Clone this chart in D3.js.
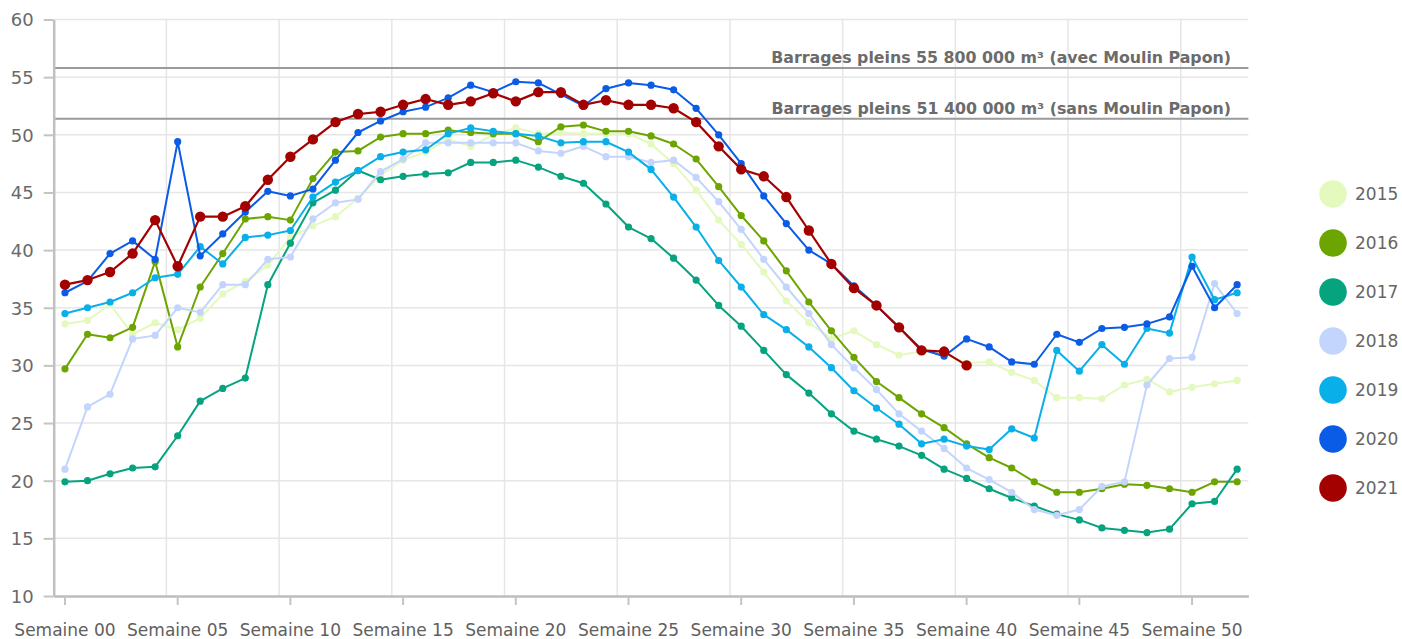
<!DOCTYPE html>
<html>
<head>
<meta charset="utf-8">
<script src="https://cdn.jsdelivr.net/npm/d3@7"></script>
<style>
  html, body { margin: 0; padding: 0; background: #ffffff; }
  svg { display: block; }
</style>
</head>
<body>
<svg id="chart" width="1402" height="639"></svg>
<script>
// ---------- DATA ----------
const weeks = d3.range(0, 53);
const weekTicks = [0, 5, 10, 15, 20, 25, 30, 35, 40, 45, 50];
const yTicks = [10, 15, 20, 25, 30, 35, 40, 45, 50, 55, 60];
const years = ["2015", "2016", "2017", "2018", "2019", "2020", "2021"];
const colors = ["#e3f9bd", "#6da500", "#06a37f", "#c3d5fd", "#09afe8", "#0a5be6", "#a30000"];

const v2015 = [33.6, 33.9, 35.3, 32.7, 33.7, 33.1, 34.1, 36.2, 37.3, 38.7, 41.1, 42.1, 42.9, 44.5, 46.5, 47.8, 48.5, 49.6, 49.0, 50.0, 50.6, 50.1, 50.2, 50.1, 50.1, 50.1, 49.2, 47.5, 45.2, 42.6, 40.5, 38.1, 35.6, 33.7, 32.3, 33.0, 31.8, 30.9, 31.2, 31.0, 30.2, 30.3, 29.4, 28.7, 27.2, 27.2, 27.1, 28.3, 28.8, 27.7, 28.1, 28.4, 28.7];
const v2016 = [29.7, 32.7, 32.4, 33.3, 39.0, 31.6, 36.8, 39.7, 42.7, 42.9, 42.6, 46.2, 48.5, 48.6, 49.8, 50.1, 50.1, 50.4, 50.2, 50.1, 50.1, 49.4, 50.7, 50.85, 50.3, 50.3, 49.9, 49.2, 47.9, 45.5, 43.0, 40.8, 38.2, 35.5, 33.0, 30.7, 28.6, 27.2, 25.8, 24.6, 23.2, 22.0, 21.1, 19.9, 19.0, 19.0, 19.3, 19.7, 19.6, 19.3, 19.0, 19.9, 19.9];
const v2017 = [19.9, 20.0, 20.6, 21.1, 21.2, 23.9, 26.9, 28.0, 28.9, 37.0, 40.6, 44.1, 45.2, 46.9, 46.1, 46.4, 46.6, 46.7, 47.6, 47.6, 47.8, 47.2, 46.4, 45.8, 44.0, 42.0, 41.0, 39.3, 37.4, 35.2, 33.4, 31.3, 29.2, 27.6, 25.8, 24.3, 23.6, 23.0, 22.2, 21.0, 20.2, 19.3, 18.5, 17.8, 17.1, 16.6, 15.9, 15.7, 15.5, 15.8, 18.0, 18.2, 21.0];
const v2018 = [21.0, 26.4, 27.5, 32.3, 32.6, 35.0, 34.6, 37.0, 37.0, 39.2, 39.4, 42.7, 44.1, 44.4, 46.8, 47.9, 49.3, 49.3, 49.3, 49.3, 49.3, 48.6, 48.4, 49.0, 48.1, 48.1, 47.6, 47.8, 46.3, 44.2, 41.8, 39.2, 36.8, 34.5, 31.8, 29.8, 27.9, 25.8, 24.3, 22.8, 21.1, 20.1, 19.0, 17.5, 17.0, 17.5, 19.5, 19.9, 28.3, 30.6, 30.7, 37.1, 34.5];
const v2019 = [34.5, 35.0, 35.5, 36.3, 37.6, 37.9, 40.3, 38.8, 41.1, 41.3, 41.7, 44.6, 45.9, 46.9, 48.1, 48.5, 48.7, 50.1, 50.6, 50.3, 50.1, 49.9, 49.3, 49.4, 49.4, 48.5, 47.0, 44.6, 42.0, 39.1, 36.8, 34.4, 33.1, 31.6, 29.8, 27.8, 26.3, 24.9, 23.2, 23.6, 23.0, 22.7, 24.5, 23.7, 31.3, 29.5, 31.8, 30.1, 33.2, 32.8, 39.4, 35.7, 36.3];
const v2020 = [36.3, 37.3, 39.7, 40.8, 39.2, 49.4, 39.5, 41.4, 43.3, 45.1, 44.7, 45.3, 47.8, 50.2, 51.2, 52.0, 52.4, 53.2, 54.3, 53.7, 54.6, 54.5, 53.5, 52.5, 54.0, 54.5, 54.3, 53.9, 52.3, 50.0, 47.5, 44.7, 42.3, 40.0, 38.8, 36.9, 35.2, 33.3, 31.4, 30.8, 32.3, 31.6, 30.3, 30.1, 32.7, 32.0, 33.2, 33.3, 33.6, 34.2, 38.6, 35.0, 37.0];
const v2021 = [37.0, 37.4, 38.1, 39.7, 42.6, 38.6, 42.9, 42.9, 43.8, 46.1, 48.1, 49.6, 51.1, 51.8, 52.0, 52.6, 53.1, 52.6, 52.9, 53.6, 52.9, 53.7, 53.7, 52.6, 53.0, 52.6, 52.6, 52.3, 51.1, 49.0, 47.0, 46.4, 44.6, 41.7, 38.8, 36.7, 35.2, 33.3, 31.3, 31.2, 30.0];

const refValues = [55.8, 51.4];
const refLabels = ["Barrages pleins 55 800 000 m³ (avec Moulin Papon)", "Barrages pleins 51 400 000 m³ (sans Moulin Papon)"];

const seriesValues = [v2015, v2016, v2017, v2018, v2019, v2020, v2021];

(function () {
// ---------- LAYOUT ----------
const svg = d3.select("#chart");
const mLeft = 53.7, mRight = 1248.4, mTop = 19.5, mBottom = 596;
const font = "'DejaVu Sans', sans-serif";

const x = d3.scaleBand().domain(weeks).range([mLeft, mRight]).paddingInner(0).paddingOuter(0);
const bw = x.bandwidth();
const xc = w => x(w) + bw / 2;
const y = d3.scaleLinear().domain([10, 60]).range([mBottom, mTop]);

// horizontal gridlines
svg.append("g").selectAll("line").data(yTicks.filter(t => t > 10)).join("line")
  .attr("x1", mLeft).attr("x2", mRight)
  .attr("y1", d => y(d)).attr("y2", d => y(d))
  .attr("stroke", "#e6e6e6").attr("stroke-width", 1.5);

// vertical gridlines at category boundaries
svg.append("g").selectAll("line").data(weekTicks.filter(w => w > 0)).join("line")
  .attr("x1", d => x(d)).attr("x2", d => x(d))
  .attr("y1", mTop).attr("y2", mBottom)
  .attr("stroke", "#e6e6e6").attr("stroke-width", 1.5);

// reference lines
svg.append("g").selectAll("line").data(refValues).join("line")
  .attr("x1", mLeft).attr("x2", mRight)
  .attr("y1", d => y(d)).attr("y2", d => y(d))
  .attr("stroke", "#9a9a9a").attr("stroke-width", 2);
svg.append("g").selectAll("text").data(refValues).join("text")
  .attr("x", 1231).attr("y", d => y(d) - 4.5)
  .attr("text-anchor", "end")
  .attr("font-family", font).attr("font-weight", "bold").attr("font-size", 15.8)
  .attr("fill", "#6b6b6b")
  .text((d, i) => refLabels[i]);

// X axis
const xAxis = d3.axisBottom(x).tickValues(weekTicks).tickSize(9).tickSizeOuter(0)
  .tickFormat(d => "Semaine " + String(d).padStart(2, "0"));
const gx = svg.append("g").attr("transform", `translate(0,${mBottom})`).call(xAxis);
gx.select(".domain").attr("stroke", "#bdbdbd").attr("stroke-width", 2.5);
gx.selectAll(".tick line").attr("stroke", "#c4c4c4").attr("stroke-width", 2);
gx.selectAll(".tick text").attr("font-family", font).attr("font-size", 17)
  .attr("fill", "#606060").attr("dy", 0).attr("y", 40);

// Y axis
const yAxis = d3.axisLeft(y).tickValues(yTicks).tickSize(10).tickSizeOuter(0).tickFormat(d3.format("d"));
const gy = svg.append("g").attr("transform", `translate(${mLeft},0)`).call(yAxis);
gy.select(".domain").attr("stroke", "#c0c0c0").attr("stroke-width", 2.5);
gy.selectAll(".tick line").attr("stroke", "#c4c4c4").attr("stroke-width", 2);
gy.selectAll(".tick text").attr("font-family", font).attr("font-size", 18)
  .attr("fill", "#6a6a6a").attr("x", -20).attr("dy", "0.35em");

// series
const line = d3.line().x((d, i) => xc(i)).y(d => y(d));
years.forEach((yr, k) => {
  const vals = seriesValues[k];
  const g = svg.append("g");
  const is21 = yr === "2021";
  g.append("path").datum(vals)
    .attr("d", line).attr("fill", "none")
    .attr("stroke", colors[k]).attr("stroke-width", is21 ? 2.2 : 2)
    .attr("stroke-linejoin", "round");
  g.selectAll("circle").data(vals).join("circle")
    .attr("cx", (d, i) => xc(i)).attr("cy", d => y(d))
    .attr("r", is21 ? 5.2 : 3.6)
    .attr("fill", colors[k]);
});

// legend
const lg = svg.append("g");
years.forEach((yr, k) => {
  const cy = 194 + k * 49;
  lg.append("circle").attr("cx", 1333).attr("cy", cy).attr("r", 13.8).attr("fill", colors[k]);
  lg.append("text").attr("x", 1355).attr("y", cy).attr("dy", "0.36em")
    .attr("font-family", font).attr("font-size", 17).attr("fill", "#666")
    .text(yr);
});
})();
</script>
</body>
</html>
